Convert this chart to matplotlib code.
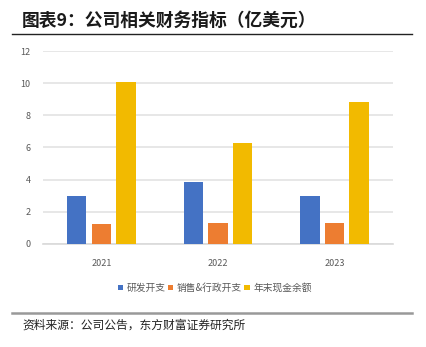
import matplotlib
matplotlib.use("Agg")
import matplotlib.pyplot as plt
import numpy as np

plt.rcParams['font.family'] = ['Noto Sans CJK SC', 'DejaVu Sans']

years = ["2021", "2022", "2023"]
series_names = ["研发开支", "销售&行政开支", "年末现金余额"]
rd = [2.96, 3.87, 3.0]
sga = [1.24, 1.32, 1.32]
cash = [10.1, 6.27, 8.82]
colors = ["#4472C4", "#ED7D31", "#F2BA00"]

fig = plt.figure(figsize=(4.27, 3.47), dpi=100)
ax = fig.add_axes([0.1007, 0.297, 0.8193, 0.556])

x = np.arange(len(years))
width = 0.167
step = 0.211
for i, (vals, name) in enumerate(zip([rd, sga, cash], series_names)):
    ax.bar(x + (i - 1) * step, vals, width, color=colors[i], label=name, zorder=3)

ax.set_xlim(-0.5, 2.5)
ax.set_ylim(0, 12)
ax.set_yticks(range(0, 13, 2))
ax.set_xticks(x)
ax.set_xticklabels(years)
ax.grid(axis='y', color='#E3E3E3', linewidth=1.2, zorder=0)
for s in ['top', 'right', 'left']:
    ax.spines[s].set_visible(False)
ax.spines['bottom'].set_color('#D9D9D9')
ax.spines['bottom'].set_linewidth(1.2)
ax.tick_params(axis='both', length=0, labelsize=6.5, colors='#595959')
ax.tick_params(axis='y', pad=9)
ax.tick_params(axis='x', pad=11)

leg = fig.legend(loc='center', bbox_to_anchor=(0.503, 0.17), ncol=3, frameon=False,
                 fontsize=7, handlelength=0.55, handleheight=0.55, handletextpad=0.35,
                 columnspacing=0.25)
for t in leg.get_texts():
    t.set_color('#595959')

fig.text(0.052, 0.94, "图表9：公司相关财务指标（亿美元）", fontsize=12.8, fontweight='bold',
         va='center', ha='left', color='#1a1a1a')
fig.add_artist(plt.Line2D([0.028, 0.965], [0.902, 0.902], color='#222222', linewidth=1.0))
fig.add_artist(plt.Line2D([0.028, 0.965], [0.098, 0.098], color='#999999', linewidth=1.8))
fig.text(0.052, 0.063, "资料来源：公司公告，东方财富证券研究所", fontsize=8.5,
         va='center', ha='left', color='#222222')

fig.savefig("out.png", dpi=100)
